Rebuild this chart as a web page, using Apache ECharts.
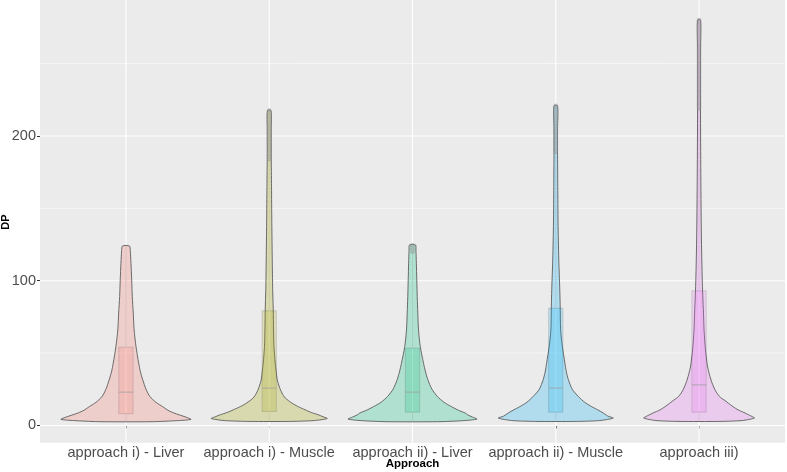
<!DOCTYPE html>
<html>
<head>
<meta charset="utf-8">
<script src="https://cdn.jsdelivr.net/npm/echarts@6/dist/echarts.min.js"></script>
<style>html,body{margin:0;padding:0;background:#fff}#c{width:787px;height:472px}</style>
</head>
<body>
<div id="c"></div>
<script>
// Categories and colours
const categories = ['approach i) - Liver', 'approach i) - Muscle', 'approach ii) - Liver', 'approach ii) - Muscle', 'approach iii)'];
const hueColors = [[248,118,109],[163,165,0],[0,191,125],[0,176,246],[231,107,243]];
const yTicks = [0, 100, 200];
const yMinor = [50, 150, 250];

// Violin profiles: [DP value, half width (x units)]
const violinLiverI = [[2.6,0.174],[3.3,0.349],[4.2,0.454],[5.5,0.426],[7.4,0.37],[8.6,0.335],[10.5,0.293],[13,0.256],[16,0.209],[20,0.167],[25,0.14],[31.6,0.117],[37,0.101],[43,0.089],[54.6,0.07],[66,0.057],[77.6,0.051],[89,0.044],[100.6,0.04],[112,0.035],[121,0.03],[124,0.024]];
const violinMuscleI = [[2.8,0.14],[3.4,0.314],[4.8,0.405],[6,0.377],[7.4,0.342],[9,0.293],[10.8,0.251],[13,0.202],[15.5,0.158],[19,0.112],[22.4,0.089],[26,0.073],[31.6,0.056],[37,0.049],[43,0.042],[54.6,0.033],[66,0.03],[80,0.028],[94,0.024],[115,0.021],[140,0.018],[165,0.016],[186,0.014],[205,0.014],[217.5,0.0125]];
const violinLiverII = [[2.6,0.174],[3.3,0.349],[4.4,0.45],[5.8,0.419],[7.4,0.384],[8.6,0.368],[10.5,0.321],[13,0.272],[16,0.22],[20,0.174],[25,0.136],[31.6,0.107],[37,0.091],[43,0.077],[54.6,0.054],[66,0.042],[77.6,0.037],[89,0.033],[100.6,0.03],[112,0.027],[121,0.024],[124.7,0.021]];
const violinMuscleII = [[2.8,0.14],[3.4,0.307],[5.1,0.401],[6.5,0.363],[8.6,0.332],[10.8,0.293],[13,0.251],[16,0.202],[20,0.158],[25,0.115],[31.6,0.088],[37,0.074],[43,0.064],[54.6,0.046],[66,0.034],[82,0.031],[94,0.028],[115,0.021],[140,0.016],[165,0.014],[189,0.0125],[205,0.0125],[220.8,0.0125]];
const violinIII = [[2.8,0.14],[3.4,0.3],[5.1,0.387],[6.2,0.37],[8.6,0.321],[10.8,0.272],[13,0.237],[17.7,0.174],[20,0.143],[24,0.115],[29.3,0.091],[35,0.073],[41,0.059],[52.3,0.045],[66,0.035],[75,0.032],[98.5,0.023],[133,0.016],[179,0.012],[225,0.01],[260,0.01],[280,0.0105]];
const violinProfiles = [violinLiverI, violinMuscleI, violinLiverII, violinMuscleII, violinIII];

// Box stats: [lower whisker, Q1, median, Q3, upper whisker]
const boxStats = [
  [2.6, 8.1, 23, 54.1, 124],
  [2.8, 9.7, 25.8, 79.2, 183],
  [2.6, 9.2, 23, 53.4, 119],
  [2.8, 9.2, 25.8, 81, 188],
  [2.8, 9.2, 28.1, 93, 218]
];
// Outlier ranges (dense outlier points): [low, high] or null
const outlierRanges = [null, [184, 217.5], [120, 124.5], [189, 220.8], [219, 280]];

const rgba = (c, a) => `rgba(${c[0]},${c[1]},${c[2]},${a})`;
const chart = echarts.init(document.getElementById('c'), null, {renderer: 'canvas'});
const catIdx = categories.map((c, i) => [i + 1]);

const option = {
  animation: false,
  backgroundColor: '#ffffff',
  grid: {left: 40, right: 2, top: 0, bottom: 29.3, show: true, backgroundColor: '#EBEBEB', borderWidth: 0},
  xAxis: {
    type: 'value', min: 0.4, max: 5.6,
    axisLine: {show: false},
    splitLine: {show: false},
    axisTick: {show: true, customValues: [1,2,3,4,5], length: 3, lineStyle: {color: '#333333', width: 1}},
    axisLabel: {customValues: [1,2,3,4,5], formatter: v => categories[Math.round(v) - 1] || '', color: '#4D4D4D', fontSize: 14.5, fontFamily: 'Liberation Sans', margin: 3}
  },
  yAxis: {
    type: 'value', min: -11.9, max: 293.9,
    axisLine: {show: false},
    splitLine: {show: false},
    axisTick: {show: true, customValues: yTicks, length: 3, lineStyle: {color: '#333333', width: 1}},
    axisLabel: {customValues: yTicks, color: '#4D4D4D', fontSize: 14.5, fontFamily: 'Liberation Sans', margin: 4}
  },
  graphic: [
    {type: 'text', x: 6, y: 222, rotation: Math.PI / 2,
     style: {text: 'DP', font: 'bold 11px "Liberation Sans"', fill: '#000', align: 'center', verticalAlign: 'middle'}},
    {type: 'text', x: 412.5, y: 464,
     style: {text: 'Approach', font: 'bold 11.5px "Liberation Sans"', fill: '#000', align: 'center', verticalAlign: 'middle'}}
  ],
  series: [
    {
      type: 'custom', z: 1, silent: true,
      data: [0],
      renderItem: function (params, api) {
        const children = [];
        yMinor.forEach(v => {
          const a = api.coord([0.4, v]), b = api.coord([5.6, v]);
          children.push({type: 'line', shape: {x1: a[0], y1: a[1], x2: b[0], y2: b[1]}, style: {stroke: '#ffffff', lineWidth: 0.55}});
        });
        yTicks.forEach(v => {
          const a = api.coord([0.4, v]), b = api.coord([5.6, v]);
          children.push({type: 'line', shape: {x1: a[0], y1: a[1], x2: b[0], y2: b[1]}, style: {stroke: '#ffffff', lineWidth: 1.1}});
        });
        catIdx.forEach(c => {
          const a = api.coord([c[0], -11.9]), b = api.coord([c[0], 293.9]);
          children.push({type: 'line', shape: {x1: a[0], y1: a[1], x2: b[0], y2: b[1]}, style: {stroke: '#ffffff', lineWidth: 1.1}});
        });
        return {type: 'group', children};
      }
    },
    {
      type: 'custom', z: 2, silent: true,
      data: catIdx,
      encode: {x: 0},
      renderItem: function (params, api) {
        const i = params.dataIndex, c = i + 1, prof = violinProfiles[i];
        const right = prof.map(p => api.coord([c + p[1], p[0]]));
        const left = prof.slice().reverse().map(p => api.coord([c - p[1], p[0]]));
        return {type: 'polygon', shape: {points: right.concat(left), smooth: 0.25},
          style: {fill: rgba(hueColors[i], 0.25), stroke: '#555555', lineWidth: 0.85}};
      }
    },
    {
      type: 'custom', z: 3, silent: true,
      data: catIdx,
      encode: {x: 0},
      renderItem: function (params, api) {
        const i = params.dataIndex, c = i + 1, s = boxStats[i], hw = 0.05;
        const gray = 'rgba(51,51,51,0.16)';
        const ch = [];
        const p = (x, y) => api.coord([x, y]);
        let a = p(c, s[3]), b = p(c, s[4]);
        ch.push({type: 'line', shape: {x1: a[0], y1: a[1], x2: b[0], y2: b[1]}, style: {stroke: gray, lineWidth: 1}});
        a = p(c, s[0]); b = p(c, s[1]);
        ch.push({type: 'line', shape: {x1: a[0], y1: a[1], x2: b[0], y2: b[1]}, style: {stroke: gray, lineWidth: 1}});
        const tl = p(c - hw, s[3]), br = p(c + hw, s[1]);
        ch.push({type: 'rect', shape: {x: tl[0], y: tl[1], width: br[0] - tl[0], height: br[1] - tl[1]},
          style: {fill: rgba(hueColors[i], 0.2), stroke: gray, lineWidth: 1}});
        a = p(c - hw, s[2]); b = p(c + hw, s[2]);
        ch.push({type: 'line', shape: {x1: a[0], y1: a[1], x2: b[0], y2: b[1]}, style: {stroke: 'rgba(160,160,160,0.55)', lineWidth: 1.5}});
        const o = outlierRanges[i];
        if (o) {
          a = p(c, o[0]); b = p(c, o[1]);
          ch.push({type: 'line', shape: {x1: a[0], y1: a[1], x2: b[0], y2: b[1]}, style: {stroke: 'rgba(140,140,140,0.5)', lineWidth: 4.5, lineCap: 'round'}});
        }
        return {type: 'group', children: ch};
      }
    }
  ]
};
chart.setOption(option);
</script>
</body>
</html>
